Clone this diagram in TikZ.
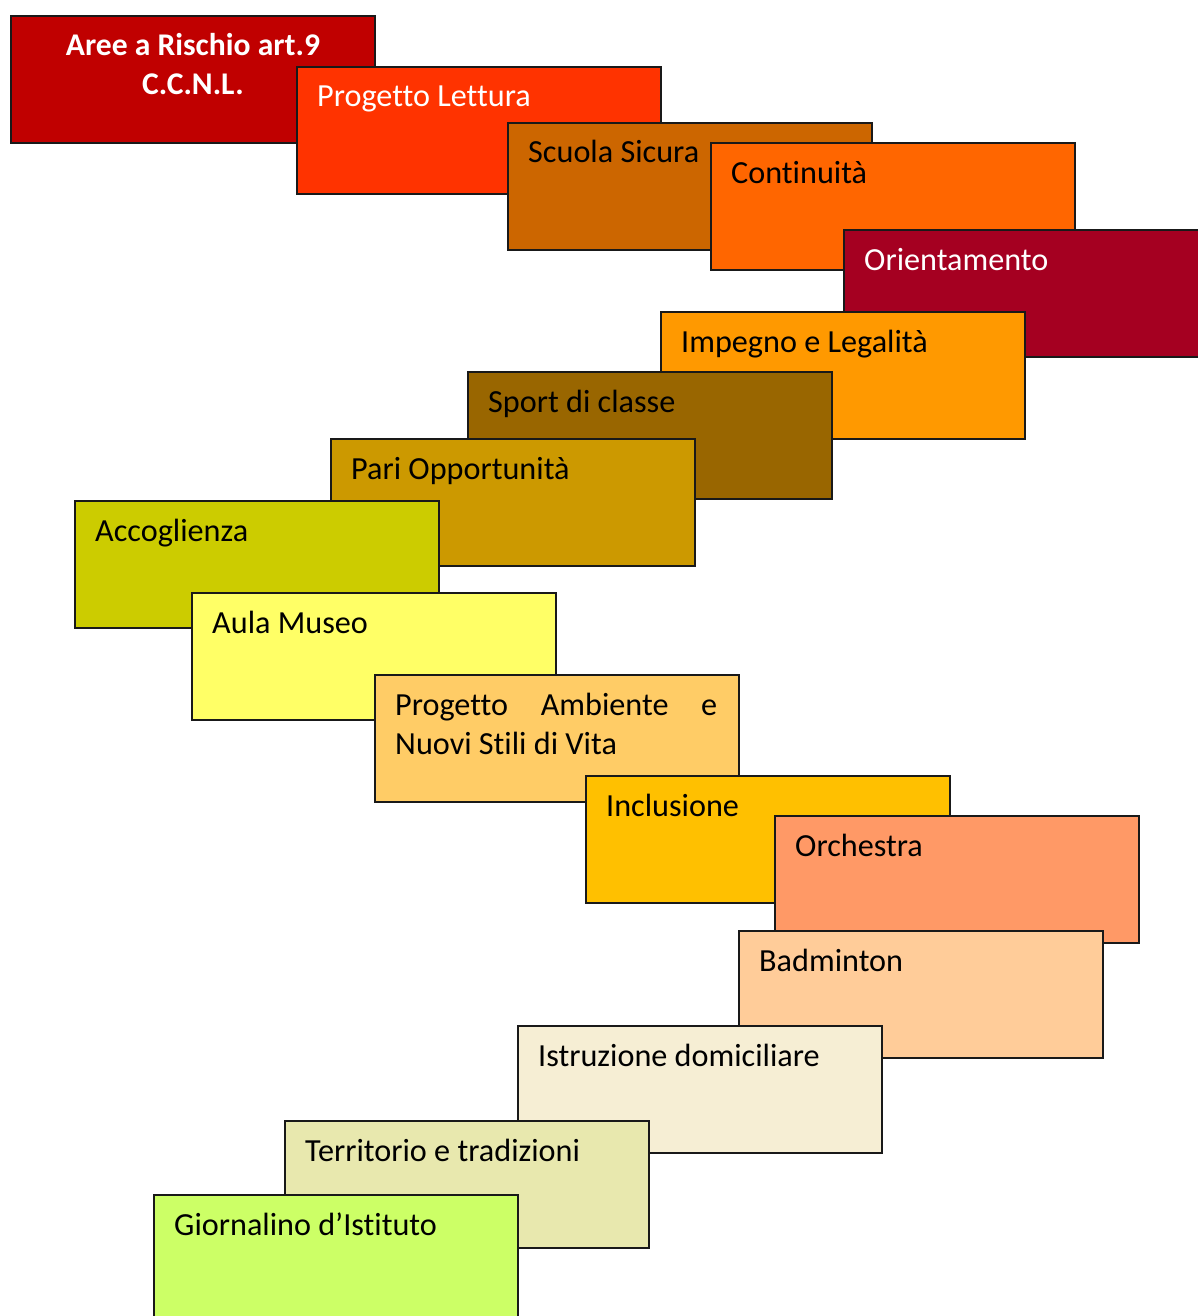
\documentclass[tikz,border=0pt]{standalone}
\usepackage{fontspec}
\setmainfont{Carlito}[Ligatures=CommonOff]
\usepackage{tikz}
\usepackage{xcolor}

\definecolor{cAree}{HTML}{C00000}
\definecolor{cLettura}{HTML}{FF3300}
\definecolor{cSicura}{HTML}{CC6600}
\definecolor{cContinuita}{HTML}{FF6600}
\definecolor{cOrient}{HTML}{A50021}
\definecolor{cImpegno}{HTML}{FF9900}
\definecolor{cSport}{HTML}{996600}
\definecolor{cPari}{HTML}{CC9900}
\definecolor{cAccoglienza}{HTML}{CCCC00}
\definecolor{cMuseo}{HTML}{FFFF66}
\definecolor{cAmbiente}{HTML}{FFCC66}
\definecolor{cInclusione}{HTML}{FFC000}
\definecolor{cOrchestra}{HTML}{FF9966}
\definecolor{cBadminton}{HTML}{FFCC99}
\definecolor{cIstruzione}{HTML}{F6EED4}
\definecolor{cTerritorio}{HTML}{E8E8AE}
\definecolor{cGiornalino}{HTML}{CCFF66}

\begin{document}
\begin{tikzpicture}[x=1pt, y=-1pt,
    area/.style={draw=black!90, line width=2pt, anchor=north west,
        minimum width=364pt, minimum height=127pt, inner sep=0pt},
    lbl/.style={anchor=base west, inner sep=0pt,
        font=\fontsize{32.2}{39}\selectfont}]
    \useasboundingbox (0,0) rectangle (1198,1316);

    \node[area, fill=cAree] (aree) at (10,15) {};
    % base of a two-line node is the last line
    \node[lbl, anchor=base, align=center, white, font=\fontsize{31.6}{39}\selectfont\bfseries]
        (aree-txt) at ([yshift=-80pt]aree.north) {Aree a Rischio art.9\\C.C.N.L.};

    \node[area, fill=cLettura] (lettura) at (296,66) {};
    \node[lbl, white] (lettura-txt) at ([xshift=21pt,yshift=-41pt]lettura.north west) {Progetto Lettura};

    \node[area, fill=cSicura] (sicura) at (507,122) {};
    \node[lbl] (sicura-txt) at ([xshift=21pt,yshift=-41pt]sicura.north west) {Scuola Sicura};

    \node[area, fill=cContinuita] (continuita) at (710,142) {};
    \node[lbl] (continuita-txt) at ([xshift=21pt,yshift=-42pt]continuita.north west) {Continuità};

    \node[area, fill=cOrient] (orient) at (843,229) {};
    \node[lbl, white] (orient-txt) at ([xshift=21pt,yshift=-41pt]orient.north west) {Orientamento};

    \node[area, fill=cImpegno] (impegno) at (660,311) {};
    \node[lbl] (impegno-txt) at ([xshift=21pt,yshift=-41pt]impegno.north west) {Impegno e Legalità};

    \node[area, fill=cSport] (sport) at (467,371) {};
    \node[lbl] (sport-txt) at ([xshift=21pt,yshift=-41pt]sport.north west) {Sport di classe};

    \node[area, fill=cPari] (pari) at (330,438) {};
    \node[lbl] (pari-txt) at ([xshift=21pt,yshift=-41pt]pari.north west) {Pari Opportunità};

    \node[area, fill=cAccoglienza] (accoglienza) at (74,500) {};
    \node[lbl] (accoglienza-txt) at ([xshift=21pt,yshift=-41pt]accoglienza.north west) {Accoglienza};

    \node[area, fill=cMuseo] (museo) at (191,592) {};
    \node[lbl] (museo-txt) at ([xshift=21pt,yshift=-41pt]museo.north west) {Aula Museo};

    \node[area, fill=cAmbiente] (ambiente) at (374,674) {};
    \node[lbl, align=left] (ambiente-txt) at ([xshift=21pt,yshift=-80pt]ambiente.north west)
        {\makebox[322pt][s]{Progetto Ambiente e}\\Nuovi Stili di Vita};

    \node[area, fill=cInclusione] (inclusione) at (585,775) {};
    \node[lbl] (inclusione-txt) at ([xshift=21pt,yshift=-41pt]inclusione.north west) {Inclusione};

    \node[area, fill=cOrchestra] (orchestra) at (774,815) {};
    \node[lbl] (orchestra-txt) at ([xshift=21pt,yshift=-41pt]orchestra.north west) {Orchestra};

    \node[area, fill=cBadminton] (badminton) at (738,930) {};
    \node[lbl] (badminton-txt) at ([xshift=21pt,yshift=-41pt]badminton.north west) {Badminton};

    \node[area, fill=cIstruzione] (istruzione) at (517,1025) {};
    \node[lbl] (istruzione-txt) at ([xshift=21pt,yshift=-41pt]istruzione.north west) {Istruzione domiciliare};

    \node[area, fill=cTerritorio] (territorio) at (284,1120) {};
    \node[lbl] (territorio-txt) at ([xshift=21pt,yshift=-41pt]territorio.north west) {Territorio e tradizioni};

    \node[area, fill=cGiornalino] (giornalino) at (153,1194) {};
    \node[lbl] (giornalino-txt) at ([xshift=21pt,yshift=-41pt]giornalino.north west) {Giornalino d’Istituto};
\end{tikzpicture}
\end{document}
